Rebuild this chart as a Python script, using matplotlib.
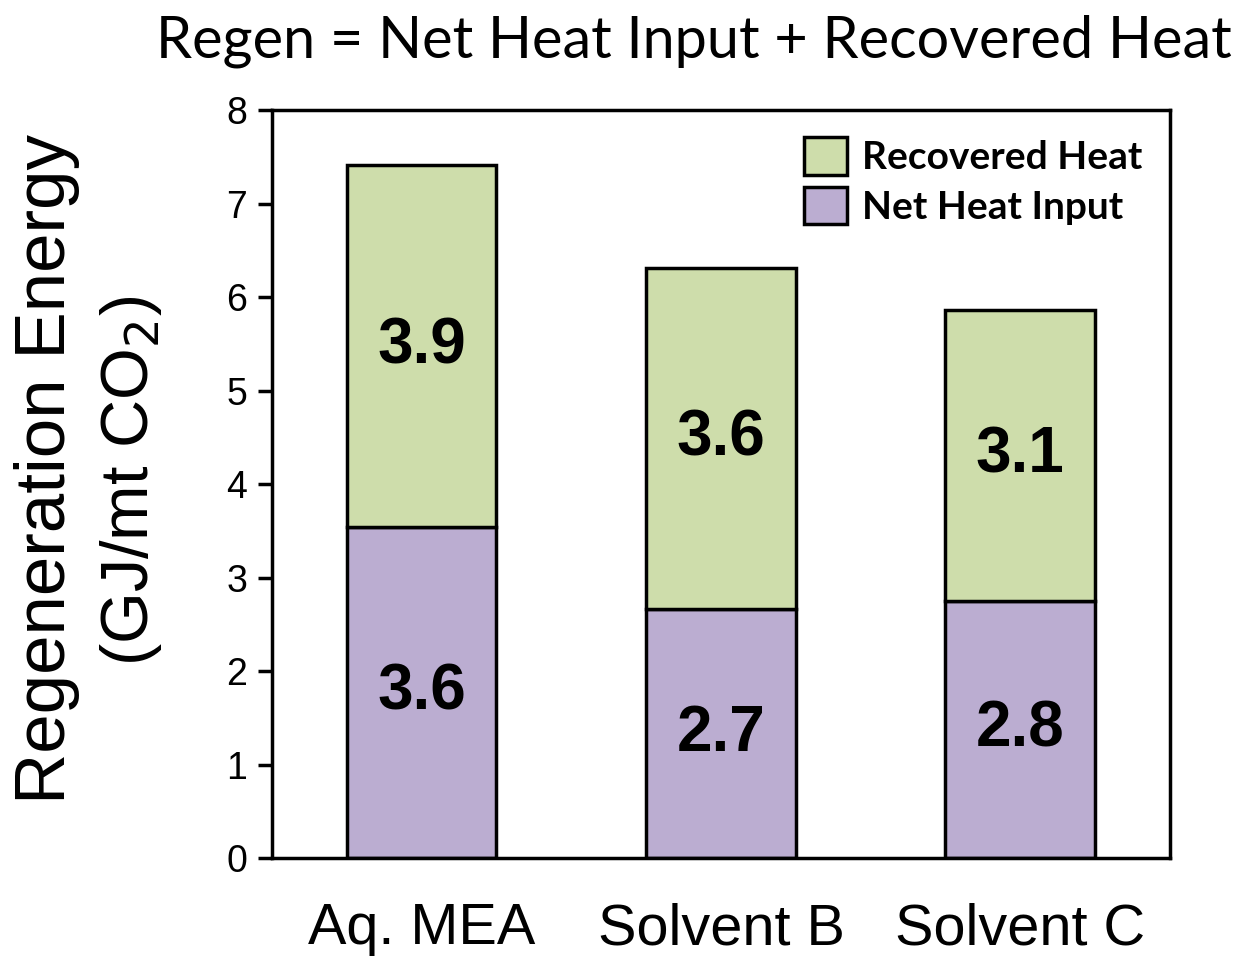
import numpy as np
import matplotlib.pyplot as plt

# data
solvents = ["Aq. MEA", "Solvent B", "Solvent C"]
net_heat = [3.54, 2.66, 2.75]
recovered_heat = [3.87, 3.65, 3.11]
net_labels = ["3.6", "2.7", "2.8"]
rec_labels = ["3.9", "3.6", "3.1"]

green = "#CEDDAB"
purple = "#BBADD1"

fig = plt.figure(figsize=(12.39, 9.56), dpi=100)
ax = fig.add_axes([0.2195, 0.1025, 0.7248, 0.7824])

x = np.arange(len(solvents))
b1 = ax.bar(x, net_heat, width=0.5, color=purple, edgecolor="black", linewidth=2.5,
            label="Net Heat Input")
b2 = ax.bar(x, recovered_heat, width=0.5, bottom=net_heat, color=green,
            edgecolor="black", linewidth=2.5, label="Recovered Heat")

for i in range(len(solvents)):
    ax.text(x[i], net_heat[i] / 2, net_labels[i], ha="center", va="center",
            fontsize=46, fontweight="bold", family="Liberation Sans")
    ax.text(x[i], net_heat[i] + recovered_heat[i] / 2, rec_labels[i], ha="center",
            va="center", fontsize=46, fontweight="bold", family="Liberation Sans")

ax.set_xlim(-0.5, 2.5)
ax.set_ylim(0, 8)
ax.set_yticks(range(9))
ax.set_xticks(x)
ax.set_xticklabels(solvents, fontsize=41.5, family="Liberation Sans")
ax.tick_params(axis="y", labelsize=27, length=10, width=2.5, direction="out", pad=8)
ax.tick_params(axis="x", length=0, pad=32)
for lbl in ax.get_yticklabels():
    lbl.set_family("Liberation Sans")
for s in ax.spines.values():
    s.set_linewidth(2.5)

leg = ax.legend(handles=[b2, b1], loc="upper right", frameon=False,
                prop={"family": "Lato", "weight": "bold", "size": 28},
                handlelength=1.1, handleheight=1.1, handletextpad=0.4,
                labelspacing=0.3, borderaxespad=0.3)

fig.text(0.038, 0.509, "Regeneration Energy", rotation=90, ha="center", va="center",
         fontsize=51, family="Liberation Sans")
fig.text(0.106, 0.497, "(GJ/mt CO$_2$)", rotation=90, ha="center", va="center",
         fontsize=48, family="Liberation Sans")

fig.text(0.5597, 0.957, "Regen = Net Heat Input + Recovered Heat", ha="center",
         va="center", fontsize=41.5, family="Lato")

fig.savefig("out.png", dpi=100)
